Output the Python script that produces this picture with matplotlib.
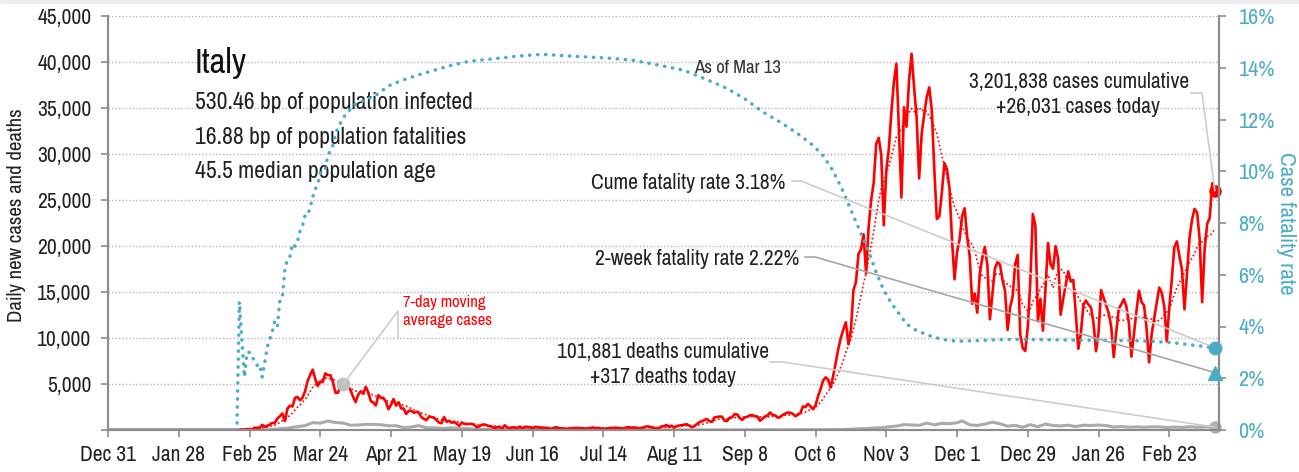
import numpy as np
import pandas as pd
import matplotlib
matplotlib.use('Agg')
import matplotlib.pyplot as plt
import matplotlib.dates as mdates
from matplotlib.patches import Rectangle

plt.rcParams['font.family'] = ['Archivo Narrow', 'DejaVu Sans']

RED = '#ff0000'
BLUE = '#4bacc6'
GRAY = '#a6a6a6'
TXT = '#222222'

# daily new cases, one list per month (first list starts on Feb 21 2020)
cases_2020_02 = [17, 62, 53, 97, 93, 78, 250, 238, 240]
cases_2020_03 = [566, 342, 466, 587, 769, 778, 1247, 1492, 1797, 977, 2313, 2651, 2547, 3497, 3590, 3233,
                 3526, 4207, 5322, 5986, 6557, 5560, 4789, 5249, 5210, 6153, 5959, 5974, 5217, 4050, 4053]
cases_2020_04 = [4782, 4668, 4585, 4805, 4316, 3599, 3039, 3836, 4204, 3951, 4694, 4092, 3153, 2972, 2667,
                 3786, 3493, 3491, 3047, 2256, 2729, 3370, 2646, 3021, 2357, 2324, 1739, 2091, 2086, 1872]
cases_2020_05 = [1965, 1900, 1389, 1221, 1075, 1444, 1401, 1327, 1083, 802, 744, 1402, 888, 992, 789, 875,
                 675, 451, 813, 665, 642, 652, 669, 531, 300, 397, 584, 593, 516, 416, 355]
cases_2020_06 = [178, 318, 321, 177, 518, 270, 197, 280, 283, 202, 379, 163, 346, 338, 301, 210, 329, 333,
                 251, 262, 224, 218, 122, 190, 296, 259, 175, 174, 126, 142]
cases_2020_07 = [187, 201, 223, 235, 192, 208, 138, 193, 229, 276, 188, 234, 169, 114, 163, 169, 230, 233,
                 249, 219, 190, 129, 282, 306, 252, 275, 255, 170, 212, 289, 386]
cases_2020_08 = [379, 295, 239, 159, 190, 384, 402, 552, 347, 463, 259, 412, 481, 523, 574, 629, 479, 320,
                 403, 642, 845, 947, 1071, 1210, 953, 878, 1367, 1411, 1460, 1444, 996]
cases_2020_09 = [978, 1326, 1397, 1733, 1695, 1297, 1108, 1370, 1434, 1597, 1616, 1501, 1458, 1008, 1229,
                 1452, 1585, 1907, 1638, 1587, 1350, 1392, 1640, 1786, 1912, 1869, 1766, 1494, 1648, 1851]
cases_2020_10 = [2548, 2499, 2844, 2578, 2257, 2677, 3678, 4458, 5372, 5724, 5456, 4619, 5901, 7332, 8804,
                 10010, 10925, 11705, 9338, 10874, 15199, 16079, 19143, 19644, 21273, 17012, 21994, 24991,
                 26831, 31084, 31758]
cases_2020_11 = [29907, 22253, 28244, 30550, 34505, 37809, 39811, 32616, 25271, 35098, 32961, 37978, 40902,
                 37255, 33979, 27354, 32191, 34283, 36176, 37242, 34767, 28337, 22930, 23232, 25853, 29003,
                 28352, 26323, 20648, 16377]
cases_2020_12 = [19350, 20709, 23225, 24099, 21052, 18887, 13720, 14842, 12756, 16999, 18727, 19903, 17938,
                 12030, 14844, 17572, 18236, 17992, 16308, 15104, 10872, 13318, 14522, 18040, 19037, 10407,
                 8913, 8585, 11212, 16202, 23477]
cases_2021_01 = [22211, 11831, 14245, 10800, 15378, 20331, 18020, 17533, 19978, 18627, 12532, 14242, 15774,
                 17246, 16146, 16310, 12545, 8824, 10497, 13571, 14078, 13633, 13331, 11629, 8561, 10593,
                 15204, 14372, 13574, 12715, 11252]
cases_2021_02 = [7925, 10630, 13189, 13659, 14218, 13442, 11641, 7970, 10404, 12956, 15146, 13908, 13532,
                 11068, 7351, 10386, 12074, 13762, 15479, 14931, 13452, 9630, 13314, 16424, 19886, 20499,
                 18916, 17455]
cases_2021_03 = [13114, 17083, 20884, 22865, 24036, 23641, 20765, 13902, 19749, 22409, 23059, 26824, 26031]

month_starts = ['2020-02-21', '2020-03-01', '2020-04-01', '2020-05-01', '2020-06-01', '2020-07-01',
                '2020-08-01', '2020-09-01', '2020-10-01', '2020-11-01', '2020-12-01', '2021-01-01',
                '2021-02-01', '2021-03-01']
month_cases = [cases_2020_02, cases_2020_03, cases_2020_04, cases_2020_05, cases_2020_06, cases_2020_07,
               cases_2020_08, cases_2020_09, cases_2020_10, cases_2020_11, cases_2020_12, cases_2021_01,
               cases_2021_02, cases_2021_03]

# daily deaths, sampled
death_dates = ['2019-12-31', '2020-02-20', '2020-02-22', '2020-02-26', '2020-03-01', '2020-03-04',
               '2020-03-08', '2020-03-11', '2020-03-15', '2020-03-18', '2020-03-21', '2020-03-24',
               '2020-03-27', '2020-03-30', '2020-04-02', '2020-04-05', '2020-04-08', '2020-04-11',
               '2020-04-14', '2020-04-17', '2020-04-20', '2020-04-23', '2020-04-26', '2020-04-29',
               '2020-05-02', '2020-05-05', '2020-05-08', '2020-05-12', '2020-05-15', '2020-05-19',
               '2020-05-22', '2020-05-26', '2020-05-29', '2020-06-02', '2020-06-06', '2020-06-10',
               '2020-06-14', '2020-06-18', '2020-06-22', '2020-06-26', '2020-06-30', '2020-07-04',
               '2020-07-10', '2020-07-17', '2020-07-24', '2020-07-31', '2020-08-07', '2020-08-14',
               '2020-08-21', '2020-08-28', '2020-09-04', '2020-09-11', '2020-09-18', '2020-09-25',
               '2020-10-02', '2020-10-06', '2020-10-10', '2020-10-14', '2020-10-17', '2020-10-20',
               '2020-10-23', '2020-10-26', '2020-10-29', '2020-11-01', '2020-11-04', '2020-11-07',
               '2020-11-10', '2020-11-13', '2020-11-16', '2020-11-19', '2020-11-22', '2020-11-25',
               '2020-11-28', '2020-12-01', '2020-12-03', '2020-12-06', '2020-12-09', '2020-12-12',
               '2020-12-15', '2020-12-18', '2020-12-21', '2020-12-24', '2020-12-27', '2020-12-30',
               '2021-01-02', '2021-01-05', '2021-01-08', '2021-01-11', '2021-01-14', '2021-01-17',
               '2021-01-20', '2021-01-23', '2021-01-26', '2021-01-29', '2021-02-01', '2021-02-04',
               '2021-02-07', '2021-02-10', '2021-02-13', '2021-02-16', '2021-02-19', '2021-02-22',
               '2021-02-25', '2021-02-28', '2021-03-03', '2021-03-06', '2021-03-09', '2021-03-12',
               '2021-03-13']
death_values = [0, 0, 1, 3, 5, 28, 133, 196, 368, 475, 793, 743, 969, 812, 760, 525, 542, 619, 602, 575,
                454, 464, 260, 323, 474, 236, 243, 172, 242, 162, 130, 78, 87, 55, 72, 71, 44, 66, 23, 30,
                23, 21, 12, 13, 10, 9, 13, 6, 9, 9, 10, 10, 24, 17, 27, 28, 29, 43, 47, 89, 136, 141, 217,
                233, 352, 425, 580, 550, 504, 753, 562, 722, 686, 785, 993, 564, 499, 649, 846, 683, 415,
                505, 305, 575, 364, 649, 483, 448, 522, 377, 524, 488, 541, 477, 329, 377, 307, 336, 311,
                336, 347, 274, 318, 280, 347, 307, 332, 380, 317]

# cumulative case fatality rate, %
cfr_dates = ['2019-12-31', '2020-02-20', '2020-02-21', '2020-02-22', '2020-02-23', '2020-02-24',
             '2020-02-25', '2020-02-26', '2020-02-27', '2020-02-28', '2020-02-29', '2020-03-01',
             '2020-03-02', '2020-03-03', '2020-03-04', '2020-03-05', '2020-03-06', '2020-03-07',
             '2020-03-08', '2020-03-09', '2020-03-10', '2020-03-11', '2020-03-12', '2020-03-13',
             '2020-03-14', '2020-03-15', '2020-03-16', '2020-03-17', '2020-03-18', '2020-03-19',
             '2020-03-20', '2020-03-21', '2020-03-22', '2020-03-23', '2020-03-24', '2020-03-25',
             '2020-03-26', '2020-03-27', '2020-03-28', '2020-03-29', '2020-03-30', '2020-03-31',
             '2020-04-03', '2020-04-07', '2020-04-12', '2020-04-16', '2020-04-20', '2020-04-25',
             '2020-05-01', '2020-05-08', '2020-05-15', '2020-05-22', '2020-06-01', '2020-06-10',
             '2020-06-20', '2020-07-01', '2020-07-15', '2020-07-25', '2020-08-05', '2020-08-15',
             '2020-08-25', '2020-09-01', '2020-09-08', '2020-09-15', '2020-09-22', '2020-09-29',
             '2020-10-05', '2020-10-09', '2020-10-13', '2020-10-17', '2020-10-20', '2020-10-24',
             '2020-10-27', '2020-10-30', '2020-11-02', '2020-11-05', '2020-11-08', '2020-11-11',
             '2020-11-15', '2020-11-20', '2020-11-25', '2020-12-01', '2020-12-08', '2020-12-15',
             '2020-12-22', '2020-12-29', '2021-01-05', '2021-01-12', '2021-01-21', '2021-02-01',
             '2021-02-10', '2021-02-17', '2021-02-24', '2021-03-01', '2021-03-06', '2021-03-13']
cfr_values = [0, 0, 4.96, 3.45, 2.05, 3.0, 3.0, 2.9, 2.6, 2.5, 2.55, 2.05, 2.6, 3.2, 3.5, 3.8, 4.2, 4.0,
              5.0, 5.1, 6.2, 6.6, 6.7, 7.2, 7.1, 7.3, 7.7, 7.9, 8.3, 8.3, 8.6, 9.0, 9.3, 9.5, 9.9, 10.1,
              10.1, 10.6, 10.8, 11.0, 11.4, 11.7, 12.2, 12.6, 12.8, 13.0, 13.3, 13.5, 13.7, 13.9, 14.1,
              14.25, 14.35, 14.45, 14.52, 14.45, 14.38, 14.3, 14.1, 13.9, 13.5, 13.2, 12.8, 12.3, 11.9,
              11.45, 11.0, 10.6, 10.0, 9.2, 8.5, 7.6, 6.9, 6.1, 5.4, 4.9, 4.5, 4.1, 3.84, 3.65, 3.5, 3.43,
              3.45, 3.48, 3.5, 3.5, 3.49, 3.48, 3.47, 3.46, 3.45, 3.42, 3.38, 3.32, 3.26, 3.18]

two_week_cfr = 2.22
tick_dates = pd.date_range('2019-12-31', periods=16, freq='28D')
tick_labels = ['Dec 31', 'Jan 28', 'Feb 25', 'Mar 24', 'Apr 21', 'May 19', 'Jun 16', 'Jul 14',
               'Aug 11', 'Sep 8', 'Oct 6', 'Nov 3', 'Dec 1', 'Dec 29', 'Jan 26', 'Feb 23']

parts = [pd.Series(v, index=pd.date_range(s, periods=len(v))) for s, v in zip(month_starts, month_cases)]
cases = pd.concat(parts).reindex(pd.date_range('2019-12-31', '2021-03-13'), fill_value=0)
ma7 = cases.rolling(7, min_periods=1).mean()
deaths = pd.Series(death_values, index=pd.to_datetime(death_dates))
cfr = pd.Series(cfr_values, index=pd.to_datetime(cfr_dates))
last = cases.index[-1]

fig = plt.figure(figsize=(12.99, 4.72), dpi=100)
fig.patches.append(Rectangle((0, 1 - 3 / 472), 1, 3 / 472, transform=fig.transFigure,
                             color='#eeeeee', zorder=0))
ax = fig.add_axes([108 / 1299, 1 - 430 / 472, 1111 / 1299, 414 / 472])
ax2 = ax.twinx()

ax.set_xlim(pd.Timestamp('2019-12-31'), pd.Timestamp('2021-03-14 16:00'))
ax.set_ylim(0, 45000)
ax2.set_ylim(0, 16)

for y in range(5000, 45001, 5000):
    ax.axhline(y, color='#b4b4b4', lw=1, ls=(0, (1, 1.5)), zorder=0)

ax.plot(deaths.index, deaths.values, color='#aaaaaa', lw=2.2, zorder=2)
ax.plot(cases.index, cases.values, color=RED, lw=1.9, zorder=3)
ax.plot(ma7.index, ma7.values, color=RED, lw=1.2, ls=(0, (1, 1.5)), zorder=4)
ax2.plot(cfr.index, cfr.values, color=BLUE, lw=2.5, ls=(0, (0.1, 2.2)),
         dash_capstyle='round', zorder=3)

ax.plot([last], [cases.iloc[-1]], 'o', color=RED, ms=8, zorder=5, clip_on=False)
ax.plot([last], [deaths.iloc[-1]], 'o', color='#b0b0b0', ms=8, zorder=5, clip_on=False)
ma_pt = pd.Timestamp('2020-04-02')
ax.plot([ma_pt], [ma7[ma_pt]], 'o', color='#c0c0c0', ms=9, zorder=5)
ax2.plot([last], [cfr.iloc[-1]], 'o', color=BLUE, ms=9, zorder=5, clip_on=False)
ax2.plot([last], [two_week_cfr], '^', color=BLUE, ms=10, zorder=5, clip_on=False)

# axes styling
for a in (ax, ax2):
    a.spines['top'].set_visible(False)
    for s in ('left', 'right', 'bottom'):
        a.spines[s].set_color('#8c8c8c')
        a.spines[s].set_linewidth(1.5)

ax.set_xticks(tick_dates)
ax.set_xticklabels(tick_labels)
ax.set_yticks(range(0, 45001, 5000))
ax.set_yticklabels([''] + [f'{v:,}' for v in range(5000, 45001, 5000)])
ax.tick_params(axis='both', labelsize=15.5, colors='#8c8c8c', labelcolor=TXT, length=5, width=1.2)
ax.tick_params(axis='y', pad=7)
ax.tick_params(axis='x', pad=6)
ax2.set_yticks(range(0, 17, 2))
ax2.set_yticklabels([f'{v}%' for v in range(0, 17, 2)])
ax2.tick_params(axis='y', labelsize=16, colors='#8c8c8c', labelcolor=BLUE, length=5, width=1.2, pad=9)

ax.set_ylabel('Daily new cases and deaths', fontsize=15, color=TXT)
ax.yaxis.set_label_coords(-0.074, 0.52)
ax2.set_ylabel('Case fatality rate', fontsize=16.5, color=BLUE, rotation=270, va='bottom')
ax2.yaxis.set_label_coords(1.051, 0.5)

ax.set_zorder(ax2.get_zorder() - 1)
ax.patch.set_visible(True)
ax2.patch.set_visible(False)

# texts
ax.text(0.078, 0.862, 'Italy', transform=ax.transAxes, fontsize=25, color='#111111', va='baseline')
stats = ['530.46 bp of population infected', '16.88 bp of population fatalities',
         '45.5 median population age']
for i, s in enumerate(stats):
    ax.text(0.078, 0.776 - i * 0.084, s, transform=ax.transAxes, fontsize=17, color=TXT, va='baseline')
ax.text(0.5275, 0.862, 'As of Mar 13', transform=ax.transAxes, fontsize=13.5, color='#333333',
        va='baseline', zorder=6)
ax.text(0.610, 0.582, 'Cume fatality rate 3.18%', transform=ax.transAxes, fontsize=15.5, color=TXT,
        ha='right', va='baseline')
ax.text(0.622, 0.399, '2-week fatality rate 2.22%', transform=ax.transAxes, fontsize=15.5, color=TXT,
        ha='right', va='baseline')
ax.text(0.4995, 0.174, '101,881 deaths cumulative', transform=ax.transAxes, fontsize=15.5, color=TXT,
        ha='center', va='baseline')
ax.text(0.4995, 0.1135, '+317 deaths today', transform=ax.transAxes, fontsize=15.5, color=TXT,
        ha='center', va='baseline')
ax.text(0.874, 0.826, '3,201,838 cases cumulative', transform=ax.transAxes, fontsize=15.5, color=TXT,
        ha='center', va='baseline')
ax.text(0.873, 0.766, '+26,031 cases today', transform=ax.transAxes, fontsize=15.5, color=TXT,
        ha='center', va='baseline')
ax.text(0.2655, 0.254, '7-day moving\naverage cases', transform=ax.transAxes, fontsize=12, color=RED,
        va='baseline', linespacing=1.2)


def px(p):
    return (p[0] - 108) / 1111, (430 - p[1]) / 414


def connector(points, axis, x, y, color):
    ex, ey = ax.transAxes.inverted().transform(axis.transData.transform((mdates.date2num(x), y)))
    pts = [px(p) for p in points] + [(ex, ey)]
    ax2.plot([p[0] for p in pts], [p[1] for p in pts], transform=ax.transAxes, color=color, lw=1.2,
             clip_on=False, zorder=4)


connector([(792, 181), (801, 181)], ax2, last, cfr.iloc[-1], '#cccccc')
connector([(805, 257), (815, 257)], ax2, last, two_week_cfr, '#a6a6a6')
connector([(770, 362), (783, 362)], ax, last, deaths.iloc[-1], '#cccccc')
connector([(1191, 93), (1202, 93)], ax, last, cases.iloc[-1], '#cccccc')
connector([(398, 338), (398, 311)], ax, ma_pt, ma7[ma_pt], '#cccccc')

fig.savefig('out.png', dpi=100)
